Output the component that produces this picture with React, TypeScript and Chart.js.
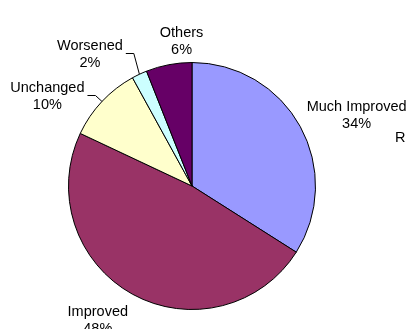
import React, { useEffect, useRef } from "react";
import { Chart, registerables } from "chart.js";

Chart.register(...registerables);

// Outcome categories and their shares (percent)
const categories = ["Much Improved", "Improved", "Unchanged", "Worsened", "Others"];
const shares = [34, 48, 10, 2, 6];
const sliceColors = ["#9999FF", "#993366", "#FFFFCC", "#CCFFFF", "#660066"];

// Label block offsets from each slice's outer mid-arc point, and which labels get a leader line
const labelOffsets: [number, number][] = [
  [56.4, -11.7],
  [-34.7, 24.9],
  [-54.6, -6.1],
  [-49.5, -21],
  [12.7, -23.9],
];
const leaderLines = [false, false, true, true, false];

const FONT = '14.5px "Liberation Sans", Arial, sans-serif';

const pieLabels = {
  id: "pieLabels",
  afterDraw(chart: any) {
    const ctx = chart.ctx as CanvasRenderingContext2D;
    const meta = chart.getDatasetMeta(0);
    ctx.save();
    ctx.font = FONT;
    ctx.fillStyle = "#000";
    ctx.strokeStyle = "#000";
    ctx.lineWidth = 1;
    ctx.textAlign = "center";
    ctx.textBaseline = "alphabetic";
    meta.data.forEach((arc: any, i: number) => {
      const { x, y, outerRadius, startAngle, endAngle } = arc.getProps(
        ["x", "y", "outerRadius", "startAngle", "endAngle"],
        true
      );
      const mid = (startAngle + endAngle) / 2;
      const ex = x + Math.cos(mid) * outerRadius;
      const ey = y + Math.sin(mid) * outerRadius;
      const cx = ex + labelOffsets[i][0];
      const cy = ey + labelOffsets[i][1];
      const line1 = categories[i];
      const line2 = `${shares[i]}%`;
      ctx.fillText(line1, cx, cy - 3.5);
      ctx.fillText(line2, cx, cy + 13.5);
      if (leaderLines[i]) {
        const w = ctx.measureText(line1).width;
        const right = cx + w / 2;
        ctx.beginPath();
        ctx.moveTo(right + 3, Math.round(cy) + 0.5);
        ctx.lineTo(right + 11, Math.round(cy) + 0.5);
        ctx.lineTo(ex, ey);
        ctx.stroke();
      }
    });
    ctx.textAlign = "left";
    ctx.fillText("R", 395, 142);
    ctx.restore();
  },
};

export default function App() {
  const canvasRef = useRef<HTMLCanvasElement | null>(null);

  useEffect(() => {
    document.body.style.margin = "0";
    const canvas = canvasRef.current;
    if (!canvas) return;
    const chart = new Chart(canvas, {
      type: "pie",
      data: {
        labels: categories,
        datasets: [
          {
            data: shares,
            backgroundColor: sliceColors,
            borderColor: "#000000",
            borderWidth: 1,
            hoverOffset: 0,
          },
        ],
      },
      options: {
        responsive: false,
        animation: false,
        events: [],
        layout: { padding: { left: 68, top: 62, right: 93, bottom: 19 } },
        plugins: {
          legend: { display: false },
          tooltip: { enabled: false },
        },
      },
      plugins: [pieLabels],
    });
    return () => chart.destroy();
  }, []);

  return (
    <div style={{ position: "fixed", left: 0, top: 0, width: 409, height: 329, background: "#fff" }}>
      <canvas ref={canvasRef} width={409} height={329} />
    </div>
  );
}
